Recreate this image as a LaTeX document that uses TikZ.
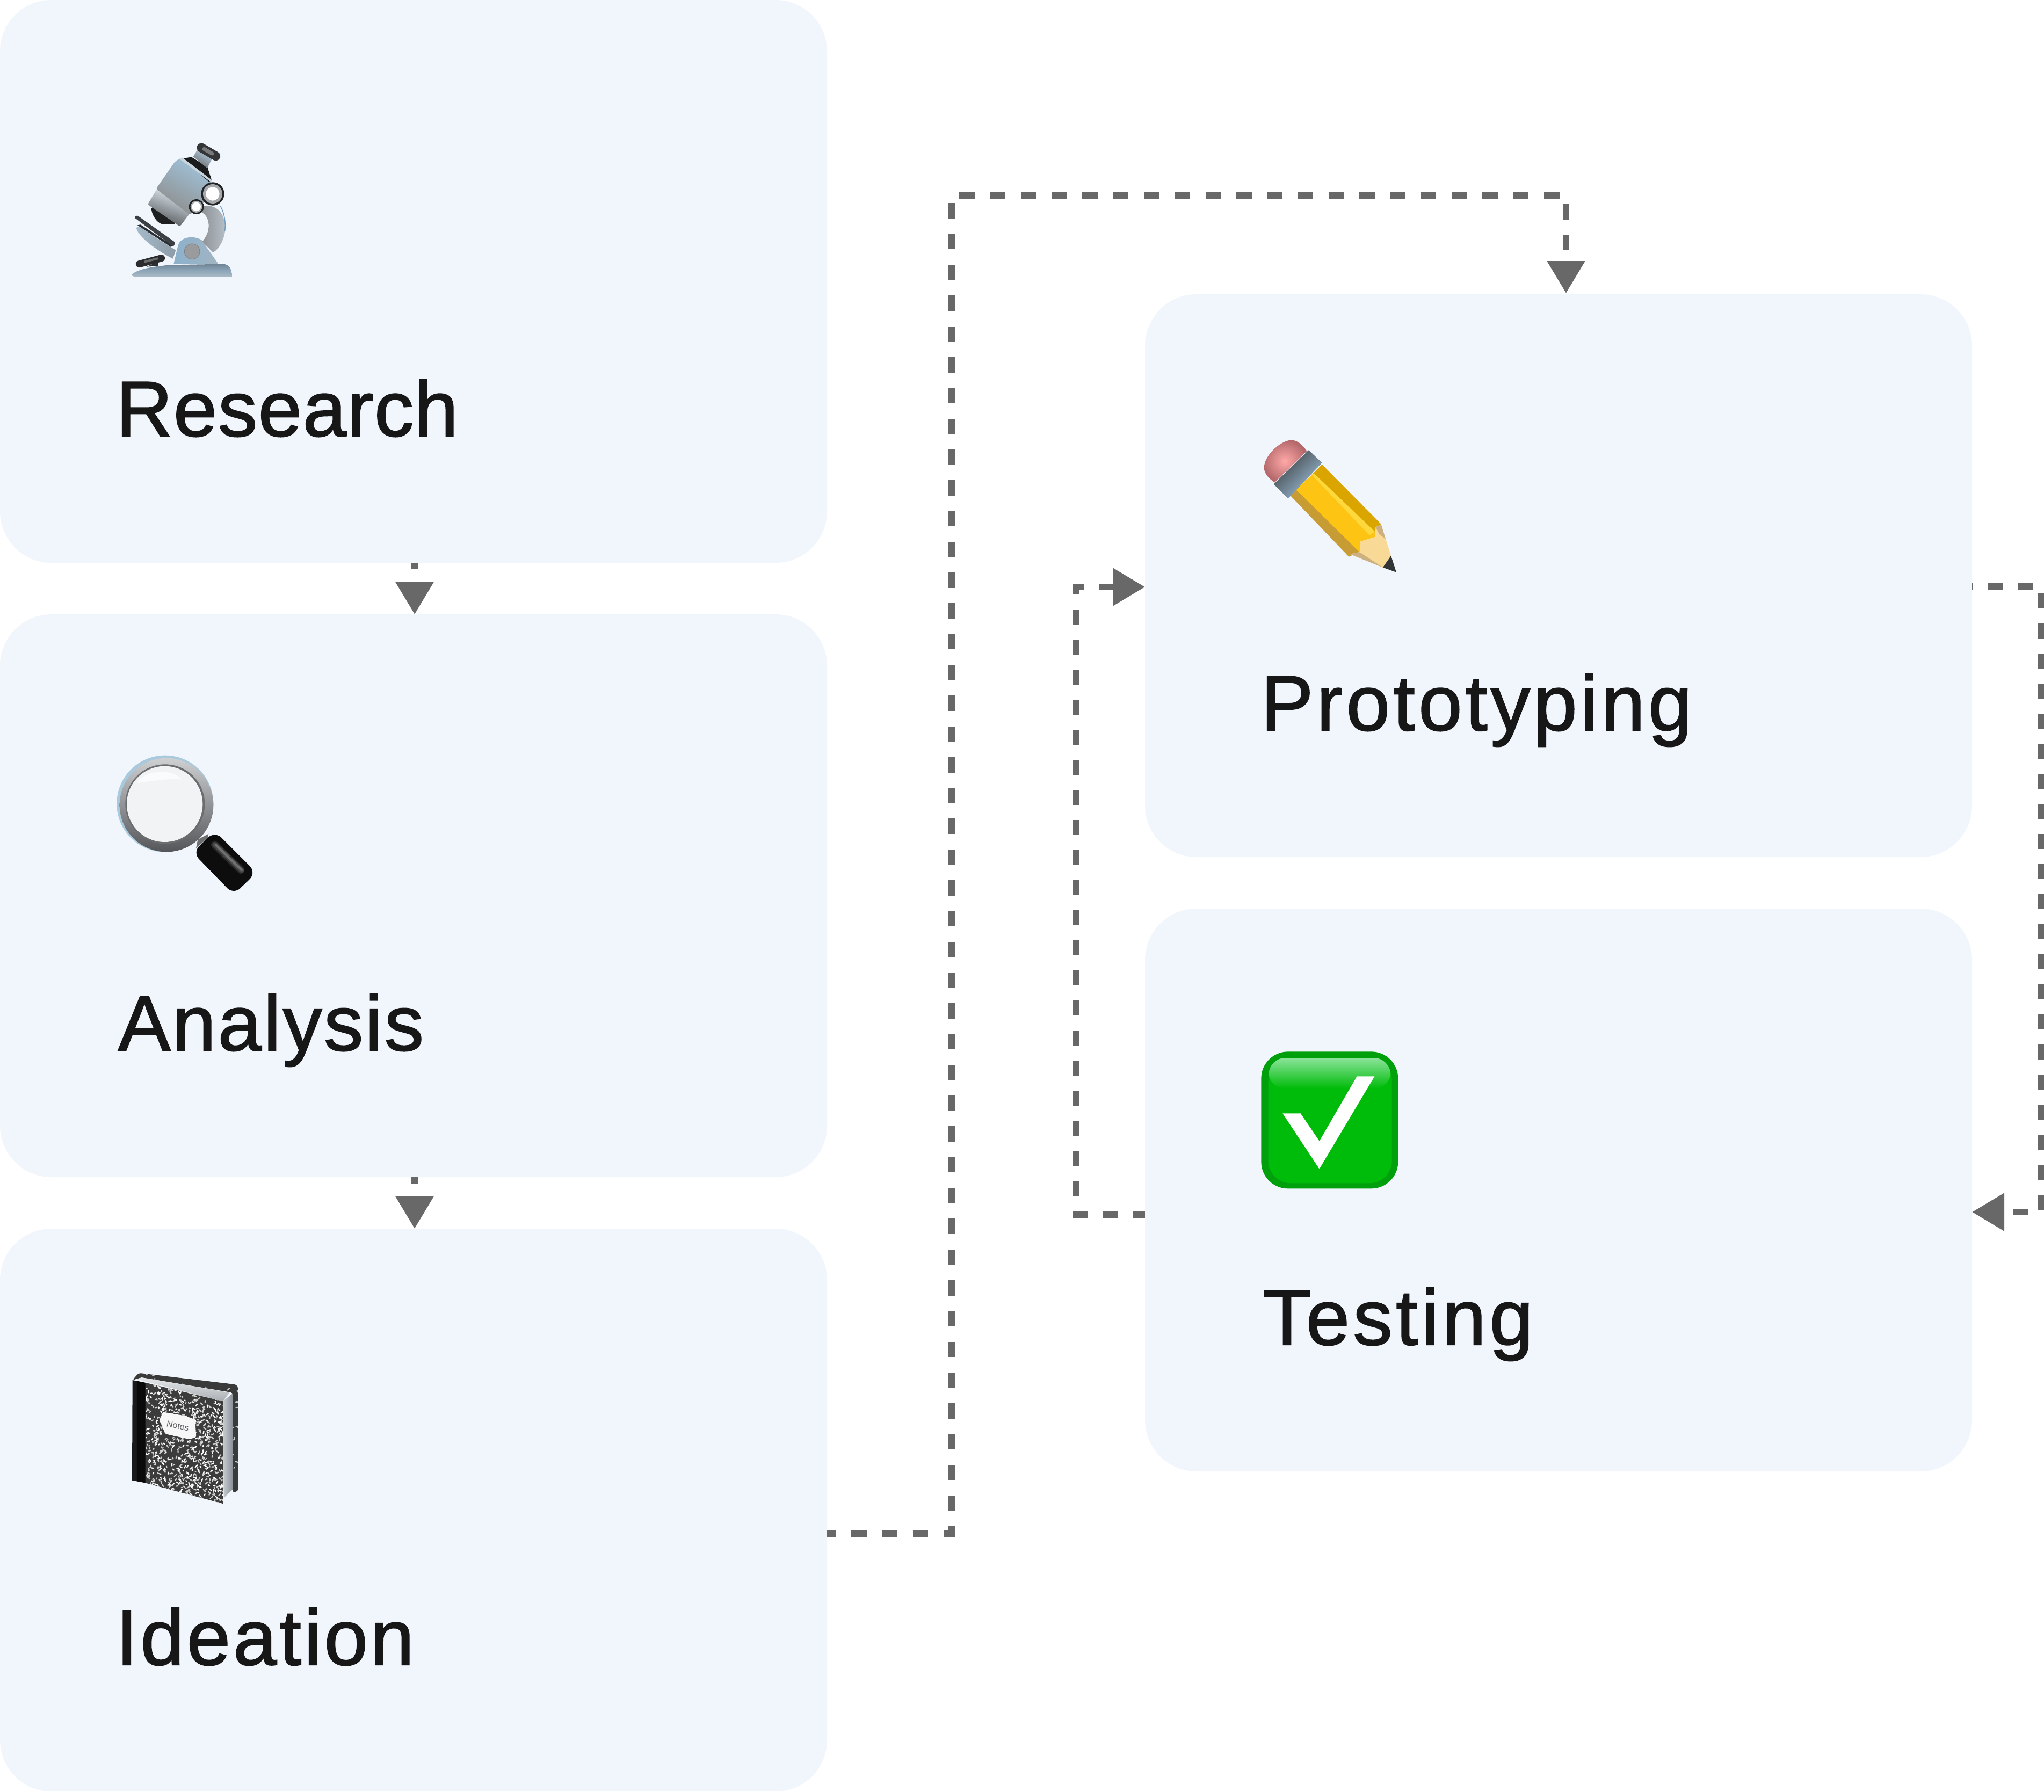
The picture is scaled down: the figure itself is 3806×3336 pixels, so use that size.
\documentclass[tikz,border=0pt]{standalone}
\usepackage{fontspec}
\setmainfont{Liberation Sans}
\usetikzlibrary{arrows.meta}
\definecolor{card}{HTML}{F1F5FC}
\definecolor{ink}{HTML}{171717}
\definecolor{wire}{HTML}{686868}
\def\dc#1{\definecolor{#1}{HTML}{#1}}
\dc{6F8596}\dc{A9B9C5}\dc{8CA5B8}\dc{2E3134}\dc{2A2C2E}\dc{6A6C6E}\dc{8C9194}\dc{B7C0C8}\dc{6F9CC0}\dc{A5BACB}\dc{8D9BA6}\dc{2B2F33}\dc{3B4045}\dc{8CB1CC}\dc{A2B4C2}\dc{9A9B9C}\dc{7E8285}\dc{1E1F20}\dc{E3EDF5}\dc{A6A29C}\dc{4F5255}\dc{A0C2DA}\dc{8AA6BA}\dc{8E8E8C}\dc{1A1B1C}\dc{C9D4DC}\dc{B5D0E2}\dc{8E9296}\dc{6B6C6E}\dc{343536}\dc{77787A}\dc{232425}\dc{A7A9AC}\dc{ACAEB0}\dc{A9C9DC}\dc{CFD0D2}\dc{55565A}\dc{6C6D6F}\dc{F2F3F5}\dc{FAFBFC}\dc{6E6F71}\dc{0D0D0E}\dc{888888}\dc{999999}\dc{AAAAAA}\dc{3A3A3A}\dc{C8C8C8}\dc{E6E8EA}\dc{A9ADB1}\dc{C8CDD2}\dc{8B9198}\dc{3C3C3C}\dc{1A1A1A}\dc{0A0A0A}\dc{F7F7F7}\dc{5C5F62}\dc{FFA8A8}\dc{B5696B}\dc{C79C35}\dc{FDC413}\dc{DBA500}\dc{FFD83C}\dc{3F3F40}\dc{8C9196}\dc{9CC2DE}\dc{F8D995}\dc{CDB080}\dc{333436}\dc{00A00C}\dc{00BC0A}\dc{8BE39A}
\tikzset{
  card/.style={fill=card,draw=none,rounded corners=96pt,minimum width=1540pt,minimum height=1048pt,inner sep=0pt,outer sep=0pt},
  lab/.style={anchor=base west,inner sep=0pt,outer sep=0pt,text=ink,font=\fontsize{146pt}{146pt}\selectfont},
  conn/.style={draw=wire,line width=12pt,line join=miter,-{Triangle[length=60pt,width=68pt]},dash pattern=on 28.65pt off 28.65pt},
  shortconn/.style={draw=wire,line width=12pt,-{Triangle[length=60pt,width=68pt]},dash pattern=on 12pt off 24pt on 40pt off 20pt},
}
\begin{document}
\begin{tikzpicture}[x=1pt,y=-1pt]
\useasboundingbox (0,0) rectangle (3806,3336);
\fill[white] (0,0) rectangle (3806,3336);

\node[card] (research) at (770,524) {};
\node[card] (analysis) at (770,1668) {};
\node[card] (ideation) at (770,2812) {};
\node[card] (proto) at (2902,1072) {};
\node[card] (testing) at (2902,2216) {};

\node[lab] (lresearch) at (216,812) {\addfontfeature{LetterSpace=1.2,FakeBold=1.5}Research};
\node[lab] (lanalysis) at (220,1956) {\addfontfeature{LetterSpace=2.5,FakeBold=1.5}Analysis};
\node[lab] (lideation) at (216,3100) {\addfontfeature{LetterSpace=3.5,FakeBold=1.5}Ideation};
\node[lab] (lproto) at (2348,1360) {\addfontfeature{LetterSpace=4.4,FakeBold=1.5}Prototyping};
\node[lab] (ltesting) at (2352,2504) {\addfontfeature{LetterSpace=4.6,FakeBold=1.5}Testing};

\draw[shortconn] ([xshift=2pt]research.south) -- ([xshift=2pt]analysis.north);
\draw[shortconn] ([xshift=2pt]analysis.south) -- ([xshift=2pt]ideation.north);
\draw[conn,dash phase=12.2pt] ([yshift=-44pt]ideation.east) -- ++(232,0) -- ++(0,-2492) -| ([xshift=14pt,yshift=2pt]proto.north);
\draw[conn,dash pattern=on 28pt off 28pt,dash phase=27pt] ([yshift=-20pt]proto.east) -- ++(128,0) |- ([yshift=-41pt]testing.east);
\draw[conn,dash pattern=on 28pt off 28pt,dash phase=5pt] ([yshift=-46pt]testing.west) -- ++(-128,0) |- ([yshift=-21pt]proto.west);

% ---------- microscope
\begin{scope}[shift={(180,220)},x=.3333pt,y=-.3333pt]
\shade[top color=6F8596,bottom color=A9B9C5,middle color=8CA5B8] (195,875) .. controls (230,840) and (340,825) .. (420,820) -- (710,815) .. controls (740,820) and (755,840) .. (755,885) -- (215,885) .. controls (205,885) and (195,880) .. (195,875) -- cycle;
\fill[2E3134] (280,830) -- (345,800) -- (345,825) -- cycle;
\draw[line width=13pt,line cap=round,color=2A2C2E] (238,815) -- (362,782);
\draw[line width=4pt,line cap=round,color=6A6C6E] (270,802) -- (340,784);
% arm
\shade[left color=8C9194,right color=B7C0C8] (598,490) .. controls (690,480) and (722,560) .. (718,620) .. controls (715,680) and (680,735) .. (650,750) -- (590,690) .. controls (625,650) and (635,600) .. (618,560) .. controls (610,540) and (595,530) .. (585,525) -- cycle;
\draw[line width=1.5pt,color=6F9CC0] (690,490) .. controls (715,530) and (722,590) .. (716,630);
% stage
\shade[left color=A5BACB,right color=8D9BA6] (222,612) .. controls (222,645) and (300,720) .. (425,785) -- (442,738) .. controls (380,700) and (300,650) .. (240,605) -- cycle;
\fill[2B2F33] (228,598) -- (245,595) -- (425,712) -- (415,720) -- cycle;
\fill[3B4045,rounded corners=2pt] (210,555) -- (225,542) -- (440,695) -- (428,718) -- cycle;
% hump
\shade[left color=8CB1CC,right color=A2B4C2] (430,815) -- (455,710) .. controls (465,670) and (530,650) .. (585,680) -- (680,815) -- cycle;
\fill[9A9B9C,draw=7E8285,line width=1pt] (533,745) circle (43);
% tube
\fill[1E1F20] (305,505) .. controls (310,550) and (340,585) .. (365,592) -- (435,592) -- (470,560) -- (340,470) -- cycle;
\shade[left color=E3EDF5,middle color=A6A29C,right color=4F5255,shading angle=-20,rounded corners=3pt] (285,482) -- (335,398) -- (522,530) -- (465,605) -- cycle;
\shade[left color=A0C2DA,middle color=8AA6BA,right color=8E8E8C,shading angle=-30,rounded corners=3pt] (332,395) -- (438,242) -- (465,226) -- (642,350) -- (600,470) -- (520,540) -- cycle;
\fill[1A1B1C] (478,225) -- (530,218) -- (618,272) -- (642,345) -- (630,358) -- cycle;
\fill[C9D4DC] (462,228) -- (478,220) -- (642,345) -- (640,358) -- cycle;
\shade[left color=B5D0E2,middle color=8E9296,right color=6B6C6E,shading angle=-30] (540,215) -- (565,172) -- (645,225) -- (618,280) -- cycle;
\draw[line width=17pt,line cap=round,color=343536] (585,165) -- (665,212);
\draw[line width=7pt,line cap=round,color=77787A] (600,172) -- (645,198);
% knobs
\fill[232425] (648,423) circle (65);
\fill[A7A9AC] (648,423) circle (54);
\fill[white] (648,423) circle (38);
\fill[232425] (557,495) circle (42);
\fill[ACAEB0] (557,495) circle (33);
\fill[white] (557,495) circle (25);
\end{scope}

% ---------- magnifier
\begin{scope}[shift={(200,1380)},x=.3333pt,y=-.3333pt]
\fill[A9C9DC] (322,350) circle (270);
\shade[top color=CFD0D2,bottom color=55565A] (330,357) circle (262);
\fill[6C6D6F] (322,352) circle (222);
\fill[F2F3F5] (320,352) circle (212);
\fill[FAFBFC] (165,235) .. controls (190,175) and (340,140) .. (415,212) .. controls (330,210) and (230,225) .. (165,235) -- cycle;
\fill[6E6F71] (505,550) -- (565,518) -- (560,540) -- (495,600) -- cycle;
\fill[0D0D0E,rounded corners=17pt] (600,503) -- (832,735) -- (705,858) -- (476,622) -- cycle;
\draw[line width=14pt,line cap=round,color=888888,opacity=.22] (600,580) -- (745,720);
\draw[line width=9pt,line cap=round,color=999999,opacity=.3] (600,578) -- (750,722);
\draw[line width=4pt,line cap=round,color=AAAAAA,opacity=.4] (605,580) -- (750,720);
\end{scope}

% ---------- notebook
\begin{scope}[shift={(220,2530)},x=.3333pt,y=-.3333pt]
\fill[3A3A3A,rounded corners=4pt] (80,120) -- (115,80) -- (660,145) -- (670,160) -- (670,740) -- (640,748) -- (640,190) -- (130,105) -- cycle;
\begin{scope}
\clip (115,80) -- (660,145) -- (670,160) -- (670,740) -- (640,748) -- (640,190) -- (130,105) -- cycle;
\pgfmathsetseed{11}
\foreach \i in {1,...,220} {
  \pgfmathsetmacro\xa{110+rnd*565}
  \pgfmathsetmacro\ya{80+rnd*670}
  \pgfmathsetmacro\dxa{(rnd-.5)*24}
  \pgfmathsetmacro\dya{(rnd-.5)*24}
  \draw[line width=2.2pt,line cap=round,color=C8C8C8] (\xa,\ya) -- ++(\dxa,\dya);
}
\end{scope}
\shade[top color=E6E8EA,bottom color=A9ADB1] (105,115) -- (130,105) -- (622,190) -- (585,238) -- cycle;
\shade[left color=C8CDD2,right color=8B9198] (585,238) -- (640,195) -- (640,730) -- (590,778) -- cycle;
\fill[3C3C3C] (155,135) -- (585,238) -- (585,810) -- (155,695) -- cycle;
\begin{scope}
\clip (155,135) -- (585,238) -- (585,810) -- (155,695) -- cycle;
\pgfmathsetseed{5}
\foreach \i in {1,...,1000} {
  \pgfmathsetmacro\xa{150+rnd*440}
  \pgfmathsetmacro\ya{130+rnd*690}
  \pgfmathsetmacro\dxa{(rnd-.5)*26}
  \pgfmathsetmacro\dya{(rnd-.5)*26}
  \pgfmathsetmacro\gr{rnd>.6?100:75}
  \draw[line width=2.2pt,line cap=round,color=white!\gr!3C3C3C] (\xa,\ya) -- ++(\dxa,\dya);
}
\end{scope}
\fill[1A1A1A] (80,120) -- (155,135) -- (155,695) -- (78,680) -- cycle;
\fill[0A0A0A] (105,125) -- (150,135) -- (150,692) -- (105,685) -- cycle;
\fill[F7F7F7,rounded corners=3pt] (230,345) -- (250,298) -- (375,320) -- (430,340) -- (436,440) -- (395,450) -- (262,420) -- (250,385) -- cycle;
\node[rotate=-11,inner sep=0pt,text=5C5F62,font=\fontsize{16pt}{16pt}\selectfont] (notes) at (333,376) {Notes};
\end{scope}

% ---------- pencil
\begin{scope}[shift={(2330,800)},x=.3333pt,y=-.3333pt]
\shade[inner color=FFA8A8,outer color=B5696B] (130,295) .. controls (85,265) and (65,230) .. (72,200) .. controls (85,130) and (170,60) .. (225,58) .. controls (260,60) and (290,90) .. (310,120) -- cycle;
\fill[C79C35] (210,360) -- (250,335) -- (610,680) -- (545,710) -- cycle;
\fill[FDC413] (250,335) -- (340,250) -- (695,580) -- (690,600) -- (610,625) -- (605,685) -- cycle;
\fill[DBA500] (340,250) -- (395,195) -- (725,528) -- (695,545) -- (695,580) -- cycle;
\fill[FFD83C] (335,250) -- (350,245) -- (690,570) -- (660,590) -- cycle;
\shade[left color=3F3F40,middle color=8C9196,right color=9CC2DE,shading angle=45] (125,305) -- (320,115) -- (395,185) -- (205,385) -- cycle;
\fill[F8D995] (695,545) -- (725,530) -- (780,705) -- (735,770) -- (550,695) -- (605,685) -- (610,625) -- (690,600) -- cycle;
\fill[CDB080] (550,695) -- (605,685) -- (735,770) -- cycle;
\fill[CDB080] (695,545) -- (725,530) -- (750,610) -- (715,585) -- cycle;
\fill[333436] (780,705) -- (810,797) -- (735,770) -- cycle;
\end{scope}

% ---------- check mark
\begin{scope}[shift={(2330,1940)},x=.3333pt,y=-.3333pt]
\fill[00A00C,rounded corners=50pt] (55,55) rectangle (820,820);
\fill[00BC0A,rounded corners=42pt] (95,90) rectangle (785,790);
\shade[top color=8BE39A,bottom color=00BC0A,rounded corners=30pt] (100,90) -- (775,90) -- (780,260) -- (95,260) -- cycle;
\fill[white] (175,400) -- (275,400) -- (380,555) -- (590,193) -- (688,193) -- (380,710) -- cycle;
\end{scope}
\end{tikzpicture}
\end{document}
